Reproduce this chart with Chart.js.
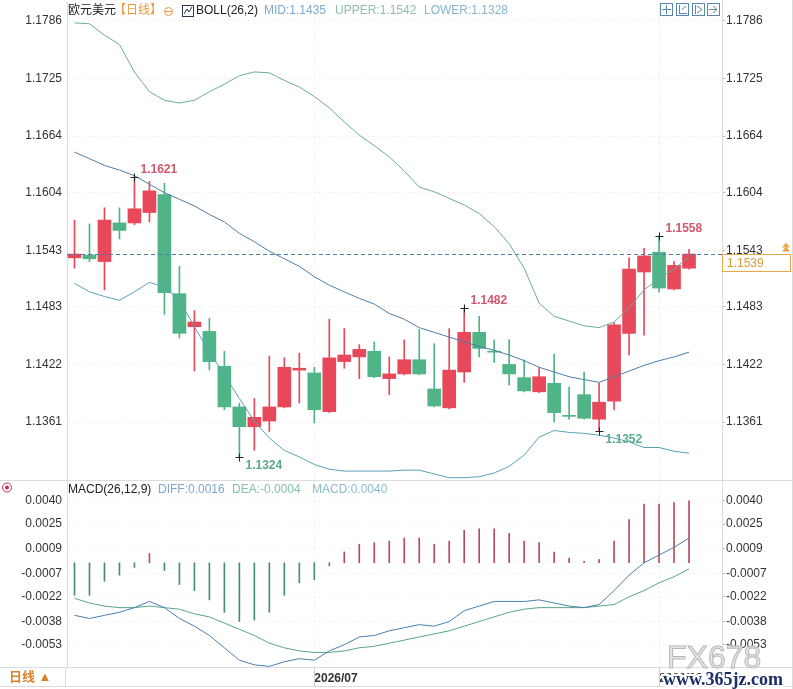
<!DOCTYPE html>
<html>
<head>
<meta charset="utf-8">
<script src="https://cdn.jsdelivr.net/npm/chart.js@4.4.1/dist/chart.umd.min.js"></script>
<style>
  body { margin: 0; background: #fff; width: 793px; height: 689px; overflow: hidden; position: relative; }
  canvas { position: absolute; left: 0; }
  #main { top: 0; }
  #macd { top: 481px; }
</style>
</head>
<body>
<canvas id="main" width="793" height="481"></canvas>
<canvas id="macd" width="793" height="208"></canvas>
<script>
// 欧元美元 日线 K线数据
var opens  = [1.1535,1.1538,1.1531,1.1572,1.1572,1.1583,1.1602,1.1497,1.1462,1.1457,1.1420,1.1377,1.1356,1.1362,1.1377,1.1416,1.1413,1.1372,1.1425,1.1430,1.1436,1.1407,1.1412,1.1427,1.1396,1.1376,1.1414,1.1456,1.1435,1.1422,1.1408,1.1393,1.1402,1.1367,1.1390,1.1364,1.1383,1.1455,1.1520,1.1541,1.1502,1.1524]
var highs  = [1.1575,1.1571,1.1588,1.1588,1.1621,1.1616,1.1614,1.1526,1.1479,1.1471,1.1436,1.1381,1.1386,1.1431,1.1429,1.1434,1.1419,1.1470,1.1460,1.1443,1.1446,1.1430,1.1448,1.1459,1.1444,1.1460,1.1482,1.1473,1.1448,1.1448,1.1427,1.1419,1.1433,1.1398,1.1414,1.1402,1.1466,1.1535,1.1545,1.1558,1.1531,1.1544]
var lows   = [1.1524,1.1531,1.1501,1.1555,1.1570,1.1573,1.1475,1.1450,1.1415,1.1416,1.1374,1.1324,1.1331,1.1351,1.1376,1.1381,1.1360,1.1371,1.1418,1.1407,1.1408,1.1390,1.1411,1.1411,1.1377,1.1375,1.1403,1.1430,1.1424,1.1400,1.1393,1.1392,1.1361,1.1364,1.1364,1.1352,1.1374,1.1432,1.1453,1.1499,1.1501,1.1523]
var closes = [1.1539,1.1534,1.1575,1.1564,1.1587,1.1606,1.1498,1.1455,1.1467,1.1425,1.1377,1.1356,1.1366,1.1377,1.1419,1.1418,1.1374,1.1429,1.1432,1.1438,1.1409,1.1412,1.1427,1.1412,1.1378,1.1416,1.1456,1.1439,1.1435,1.1412,1.1394,1.1409,1.1371,1.1367,1.1365,1.1382,1.1464,1.1523,1.1537,1.1503,1.1527,1.1539]

// BOLL(26,2)
var upper = [1.1784,1.1783,1.1771,1.1761,1.1732,1.1711,1.1702,1.1699,1.1702,1.1711,1.1719,1.1728,1.1732,1.1731,1.1723,1.1716,1.1706,1.1694,1.1679,1.1665,1.1654,1.1642,1.1627,1.1610,1.1605,1.1598,1.1591,1.1582,1.1568,1.1550,1.1524,1.1487,1.1473,1.1468,1.1463,1.1461,1.1467,1.1482,1.1501,1.1513,1.1523,1.1536]
var mid   = [1.1647,1.1640,1.1633,1.1628,1.1622,1.1613,1.1604,1.1597,1.1590,1.1581,1.1573,1.1561,1.1552,1.1542,1.1534,1.1526,1.1515,1.1506,1.1499,1.1492,1.1486,1.1476,1.1470,1.1461,1.1456,1.1451,1.1446,1.1441,1.1437,1.1432,1.1426,1.1419,1.1414,1.1409,1.1406,1.1403,1.1409,1.1415,1.1421,1.1426,1.1430,1.1435]
var lower = [1.1508,1.1499,1.1494,1.1490,1.1499,1.1509,1.1504,1.1490,1.1462,1.1435,1.1411,1.1386,1.1362,1.1344,1.1331,1.1324,1.1316,1.1311,1.1309,1.1309,1.1309,1.1309,1.1310,1.1310,1.1306,1.1302,1.1302,1.1303,1.1307,1.1314,1.1326,1.1345,1.1352,1.1350,1.1349,1.1347,1.1344,1.1340,1.1334,1.1334,1.1330,1.1328]

// MACD(26,12,9)
var macdHist = [-0.0021,-0.0021,-0.0012,-0.0008,-0.0003,0.0006,-0.0005,-0.0014,-0.0018,-0.0024,-0.0032,-0.0038,-0.0037,-0.0032,-0.0021,-0.0013,-0.0011,-0.0002,0.0007,0.0012,0.0013,0.0014,0.0016,0.0016,0.0012,0.0014,0.0021,0.0022,0.0022,0.0019,0.0014,0.0013,0.0007,0.0003,0.0001,0.0002,0.0014,0.0028,0.0038,0.0038,0.0039,0.0040]
var diff = [-0.0034,-0.0036,-0.0034,-0.0032,-0.0029,-0.0025,-0.0029,-0.0036,-0.0041,-0.0047,-0.0055,-0.0063,-0.0066,-0.0067,-0.0064,-0.0062,-0.0063,-0.0057,-0.0053,-0.0048,-0.0047,-0.0044,-0.0042,-0.0040,-0.0041,-0.0038,-0.0031,-0.0028,-0.0025,-0.0025,-0.0025,-0.0024,-0.0026,-0.0028,-0.0029,-0.0027,-0.0018,-0.0008,0.0000,0.0005,0.0010,0.0016]
var dea  = [-0.0023,-0.0026,-0.0028,-0.0029,-0.0029,-0.0028,-0.0029,-0.0030,-0.0033,-0.0035,-0.0039,-0.0043,-0.0047,-0.0052,-0.0055,-0.0057,-0.0058,-0.0058,-0.0057,-0.0055,-0.0054,-0.0052,-0.0050,-0.0048,-0.0046,-0.0044,-0.0041,-0.0038,-0.0035,-0.0032,-0.0030,-0.0029,-0.0029,-0.0029,-0.0029,-0.0028,-0.0027,-0.0022,-0.0018,-0.0013,-0.0009,-0.0004]

// 刻度
var priceTicks = [1.1786,1.1725,1.1664,1.1604,1.1543,1.1483,1.1422,1.1361]
var macdTicks  = [0.0040,0.0025,0.0009,-0.0007,-0.0022,-0.0038,-0.0053]
var dateIdx    = [16,39]
var dateLabels = ['2026/07','2026/08']

// 最高/最低标注
var markIdx  = [4,11,26,35,39]
var markVal  = [1.1621,1.1324,1.1482,1.1352,1.1558]
var markHigh = [true,false,true,false,true]

var lastPrice = closes[closes.length - 1]

var FONT = '"Liberation Sans", Arial, "Noto Sans CJK SC", sans-serif'
var RED = '#e8495a'
var GREEN = '#4fb487'

Chart.defaults.font.family = FONT
Chart.defaults.font.size = 12
Chart.defaults.color = '#333'

var candleColor = opens.map(function (o, i) { return closes[i] > o ? RED : GREEN })
var histColor = macdHist.map(function (v) { return v > 0 ? '#b34d5c' : '#478d72' })

function pts(arr) { return arr.map(function (v, i) { return { x: i, y: v } }) }

function line(ctx, x1, y1, x2, y2) {
  ctx.beginPath(); ctx.moveTo(x1, y1); ctx.lineTo(x2, y2); ctx.stroke()
}

function fixedWidth(w) {
  return function (s) { s.width = w; s.paddingTop = 0; s.paddingBottom = 0 }
}

//Desenha textos e marcas do painel principal
var mainOverlay = {
  id: 'mainOverlay',
  afterDraw: function (chart) {
    var ctx = chart.ctx, a = chart.chartArea, x = chart.scales.x, y = chart.scales.y
    ctx.save()
    ctx.lineWidth = 1
    ctx.strokeStyle = '#dcdcdc'
    line(ctx, a.right + 0.5, 0, a.right + 0.5, chart.height)
    line(ctx, 792.5, 0, 792.5, chart.height)
    line(ctx, 0, chart.height - 0.5, chart.width, chart.height - 0.5)

    // linha do preço atual
    var py = Math.round(y.getPixelForValue(lastPrice)) + 0.5
    ctx.strokeStyle = '#4d7ea8'
    ctx.setLineDash([4, 3])
    line(ctx, a.left, py, a.right, py)
    ctx.setLineDash([])
    ctx.fillStyle = '#fff'
    ctx.fillRect(a.right + 1, py, 68, 17)
    ctx.strokeStyle = '#eaa84a'
    ctx.strokeRect(a.right + 0.5, py, 68, 17)
    ctx.font = '12px ' + FONT
    ctx.textBaseline = 'middle'
    ctx.fillStyle = '#dc9c3c'
    ctx.fillText(lastPrice.toFixed(4), a.right + 5, py + 9)
    ctx.fillStyle = '#eaa84a'
    ctx.beginPath(); ctx.moveTo(782, py - 3); ctx.lineTo(786, py - 8); ctx.lineTo(790, py - 3); ctx.fill()
    ctx.beginPath(); ctx.moveTo(782, py - 7); ctx.lineTo(786, py - 12); ctx.lineTo(790, py - 7); ctx.fill()

    // máximos e mínimos
    markIdx.forEach(function (idx, k) {
      var px = Math.round(x.getPixelForValue(idx)) + 0.5
      var yy = Math.round(y.getPixelForValue(markVal[k])) + 0.5
      ctx.strokeStyle = '#222'
      line(ctx, px - 4, yy, px + 4, yy)
      line(ctx, px, yy - 4, px, yy + 4)
      ctx.font = 'bold 12px ' + FONT
      ctx.fillStyle = markHigh[k] ? '#d2566c' : '#5aa98e'
      ctx.fillText(markVal[k].toFixed(4), px + 6, markHigh[k] ? yy - 8 : yy + 8)
    })

    // cabeçalho
    var hy = 11
    ctx.font = '12px ' + FONT
    ctx.fillStyle = '#222'; ctx.fillText('欧元美元', 68, hy)
    ctx.fillStyle = '#e89a3c'; ctx.fillText('【日线】', 114, hy)
    ctx.strokeStyle = '#e89a3c'
    ctx.beginPath(); ctx.arc(168.5, hy + 0.5, 4, 0, Math.PI * 2); ctx.stroke()
    line(ctx, 165, hy + 0.5, 172, hy + 0.5)
    ctx.strokeStyle = '#2b3550'
    ctx.strokeRect(182.5, 5.5, 11, 11)
    ctx.beginPath(); ctx.moveTo(184, 14); ctx.lineTo(187, 9); ctx.lineTo(189, 12); ctx.lineTo(192, 7); ctx.stroke()
    ctx.fillStyle = '#222'; ctx.fillText('BOLL(26,2)', 196, hy)
    ctx.fillStyle = '#7fa8cf'; ctx.fillText('MID:1.1435', 264, hy)
    ctx.fillStyle = '#8cc3a6'; ctx.fillText('UPPER:1.1542', 335, hy)
    ctx.fillStyle = '#85b5cc'; ctx.fillText('LOWER:1.1328', 424, hy)

    // ícones do canto
    ctx.strokeStyle = '#5b86ad'
    ;[660, 676, 692, 707].forEach(function (bx, k) {
      ctx.strokeRect(bx + 0.5, 3.5, 12, 12)
      if (k === 0) { line(ctx, bx + 6.5, 5, bx + 6.5, 14); line(ctx, bx + 2, 9.5, bx + 11, 9.5) }
      if (k === 1) { line(ctx, bx + 3.5, 5, bx + 3.5, 14); line(ctx, bx + 3, 13.5, bx + 11, 13.5); line(ctx, bx + 6, 9.5, bx + 10, 6) }
      if (k === 2) { line(ctx, bx + 3.5, 5, bx + 3.5, 14); ctx.beginPath(); ctx.moveTo(bx + 5, 6); ctx.lineTo(bx + 10, 9.5); ctx.lineTo(bx + 5, 13); ctx.stroke() }
      if (k === 3) { line(ctx, bx + 2, 9.5, bx + 9, 9.5); ctx.beginPath(); ctx.moveTo(bx + 6, 6); ctx.lineTo(bx + 10, 9.5); ctx.lineTo(bx + 6, 13); ctx.stroke() }
    })
    ctx.restore()
  }
}

//Desenha textos do painel MACD
var macdOverlay = {
  id: 'macdOverlay',
  afterDraw: function (chart) {
    var ctx = chart.ctx, a = chart.chartArea, x = chart.scales.x
    ctx.save()
    ctx.lineWidth = 1
    ctx.strokeStyle = '#dcdcdc'
    line(ctx, 0, a.bottom + 0.5, chart.width, a.bottom + 0.5)
    line(ctx, 0, 205.5, chart.width, 205.5)
    line(ctx, 65.5, a.bottom, 65.5, 206)
    line(ctx, a.right + 0.5, 0, a.right + 0.5, a.bottom)
    line(ctx, 792.5, 0, 792.5, chart.height)
    ctx.strokeStyle = '#cfcfcf'
    dateIdx.forEach(function (d) {
      var px = Math.round(x.getPixelForValue(d)) + 0.5
      line(ctx, px, a.bottom, px, 205)
    })

    ctx.textBaseline = 'middle'
    var hy = 9
    ctx.strokeStyle = '#c0304a'
    ctx.beginPath(); ctx.arc(7, 6.5, 4.5, 0, Math.PI * 2); ctx.stroke()
    ctx.fillStyle = '#c0304a'
    ctx.beginPath(); ctx.arc(7, 6.5, 2, 0, Math.PI * 2); ctx.fill()
    ctx.font = '12px ' + FONT
    ctx.fillStyle = '#222'; ctx.fillText('MACD(26,12,9)', 68, hy)
    ctx.fillStyle = '#7ea6cf'; ctx.fillText('DIFF:0.0016', 158, hy)
    ctx.fillStyle = '#86c2a4'; ctx.fillText('DEA:-0.0004', 232, hy)
    ctx.fillStyle = '#8cbcd0'; ctx.fillText('MACD:0.0040', 312, hy)

    ctx.font = 'bold 13px ' + FONT
    ctx.fillStyle = '#d9832c'
    ctx.fillText('日线 ▲', 9, 196)

    // marca d'água
    ctx.font = '32px ' + FONT
    ctx.textBaseline = 'alphabetic'
    ctx.fillStyle = 'rgba(225,225,225,0.85)'
    ctx.strokeStyle = '#b9b9b9'
    ctx.fillText('FX678', 667, 187)
    ctx.strokeText('FX678', 667, 187)
    ctx.font = 'bold 18px "Liberation Serif", "DejaVu Serif", serif'
    ctx.strokeStyle = '#fff'
    ctx.lineWidth = 4
    ctx.strokeText('www.365jz.com', 663, 204)
    ctx.fillStyle = '#1c2e66'
    ctx.fillText('www.365jz.com', 663, 204)
    ctx.restore()
  }
}

//Gráfico principal (velas + BOLL)
new Chart(document.getElementById('main'), {
  type: 'bar',
  data: {
    datasets: [
      { type: 'line', label: 'UPPER', data: pts(upper), borderColor: '#6cab95', borderWidth: 1, pointRadius: 0, tension: 0, order: 0 },
      { type: 'line', label: 'MID', data: pts(mid), borderColor: '#4d7ea8', borderWidth: 1, pointRadius: 0, tension: 0, order: 0 },
      { type: 'line', label: 'LOWER', data: pts(lower), borderColor: '#5aa2b8', borderWidth: 1, pointRadius: 0, tension: 0, order: 0 },
      { label: 'body', data: opens.map(function (o, i) { return { x: i, y: [o, closes[i]] } }),
        backgroundColor: candleColor, barThickness: 13, minBarLength: 1, grouped: false, order: 1 },
      { label: 'wick', data: lows.map(function (l, i) { return { x: i, y: [l, highs[i]] } }),
        backgroundColor: candleColor, barThickness: 1, grouped: false, order: 2 }
    ]
  },
  options: {
    responsive: false,
    animation: false,
    events: [],
    layout: { padding: { top: 2, left: 0, right: 0, bottom: 0 } },
    plugins: { legend: { display: false }, tooltip: { enabled: false } },
    scales: {
      x: {
        type: 'linear', min: -0.5, max: 43.2, offset: false,
        afterBuildTicks: function (s) { s.ticks = dateIdx.map(function (v) { return { value: v } }) },
        ticks: { display: false },
        grid: { color: '#ececec', drawTicks: false, offset: false },
        border: { display: false, dash: [2, 3] },
        afterFit: function (s) { s.height = 0; s.paddingLeft = 0; s.paddingRight = 0 }
      },
      y: {
        position: 'left', min: 1.12985, max: 1.18061,
        afterBuildTicks: function (s) { s.ticks = priceTicks.map(function (v) { return { value: v } }) },
        ticks: { callback: function (v) { return v.toFixed(4) }, padding: 5, color: '#333' },
        grid: { color: '#efefef', drawTicks: false },
        border: { display: true, color: '#dcdcdc', dash: [2, 3] },
        afterFit: fixedWidth(67)
      },
      yr: {
        position: 'right', min: 1.12985, max: 1.18061,
        afterBuildTicks: function (s) { s.ticks = priceTicks.map(function (v) { return { value: v } }) },
        ticks: { callback: function (v) { return v.toFixed(4) }, padding: 1, color: '#333' },
        grid: { drawOnChartArea: false, tickLength: 3, color: '#bbb' },
        border: { display: false },
        afterFit: fixedWidth(71)
      }
    }
  },
  plugins: [mainOverlay]
})

//Gráfico MACD
new Chart(document.getElementById('macd'), {
  type: 'bar',
  data: {
    datasets: [
      { type: 'line', label: 'DIFF', data: pts(diff), borderColor: '#4a7fae', borderWidth: 1, pointRadius: 0, tension: 0, order: 0 },
      { type: 'line', label: 'DEA', data: pts(dea), borderColor: '#59a58a', borderWidth: 1, pointRadius: 0, tension: 0, order: 1 },
      { label: 'MACD', data: pts(macdHist), backgroundColor: histColor, barThickness: 1, order: 2 }
    ]
  },
  options: {
    responsive: false,
    animation: false,
    events: [],
    layout: { padding: 0 },
    plugins: { legend: { display: false }, tooltip: { enabled: false } },
    scales: {
      x: {
        type: 'linear', min: -0.5, max: 43.2, offset: false,
        afterBuildTicks: function (s) { s.ticks = dateIdx.map(function (v) { return { value: v } }) },
        ticks: {
          callback: function (v) { return dateLabels[dateIdx.indexOf(v)] || '' },
          align: 'start', maxRotation: 0, autoSkip: false, padding: 4, color: '#333',
          font: { weight: 'bold', size: 12 }
        },
        grid: { color: '#ececec', drawTicks: false, offset: false },
        border: { display: false, dash: [2, 3] },
        afterFit: function (s) { s.height = 22; s.paddingLeft = 0; s.paddingRight = 0 }
      },
      y: {
        position: 'left', min: -0.00674, max: 0.00529,
        afterBuildTicks: function (s) { s.ticks = macdTicks.map(function (v) { return { value: v } }) },
        ticks: { callback: function (v) { return v.toFixed(4) }, padding: 5, color: '#333' },
        grid: { color: '#f2f2f2', drawTicks: false },
        border: { display: true, color: '#dcdcdc', dash: [2, 3] },
        afterFit: fixedWidth(67)
      },
      yr: {
        position: 'right', min: -0.00674, max: 0.00529,
        afterBuildTicks: function (s) { s.ticks = macdTicks.map(function (v) { return { value: v } }) },
        ticks: { callback: function (v) { return v.toFixed(4) }, padding: 1, color: '#333' },
        grid: { drawOnChartArea: false, tickLength: 3, color: '#bbb' },
        border: { display: false },
        afterFit: fixedWidth(71)
      }
    }
  },
  plugins: [macdOverlay]
})
</script>
</body>
</html>
